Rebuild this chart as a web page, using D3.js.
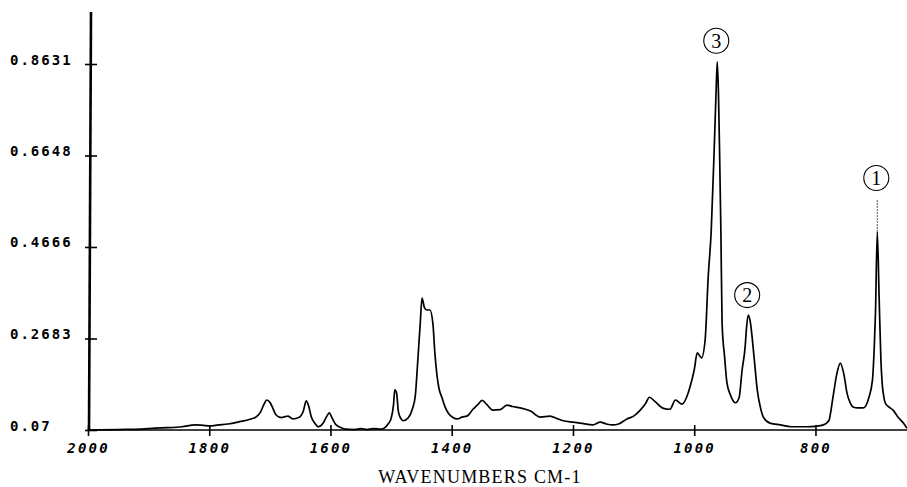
<!DOCTYPE html>
<html>
<head>
    <meta charset="utf-8">
    <title>IR spectrum</title>
    <script type="text/javascript" src="https://cdn.jsdelivr.net/npm/d3@7"></script>
    <style>
      body { margin: 0; background: #fff; }
    </style>
</head>
<body>
<script type="text/javascript">

        var width = 907
        var height = 487

        // spectrum (wavenumber cm-1, absorbance)
        var wavenumbers = [2000,1950,1912,1890,1868,1845,1823,1810,1799,1785,1769,1750,1731,1722,1715,1710,1705,1700,1695,1691,
            1685,1681,1675,1670,1666,1662,1655,1650,1645,1640,1636,1632,1626,1620,1612,1606,1602,1597,1592,1584,
            1576,1560,1550,1540,1530,1516,1505,1500,1496,1494,1491,1488,1484,1480,1472,1465,1460,1457,1452,1449,
            1445,1441,1436,1431,1428,1424,1421,1416,1411,1405,1398,1391,1383,1375,1365,1357,1350,1342,1332,1320,
            1309,1300,1287,1270,1254,1238,1225,1216,1200,1188,1167,1155,1145,1134,1125,1111,1100,1089,1080,1074,
            1065,1051,1040,1031,1020,1010,1007,1000,995,991,988,982,977,972,967,964,962,960,958,956,954,
            950,946,940,932,926,921,916,914,911,907,904,900,896,891,886,875,858,840,814,800,
            787,778,771,765,759,753,748,743,738,730,721,712,706,703,701,698,695,692,690,687,
            685,679,672,665,655,649]
        var absorbance = [0.070,0.071,0.072,0.074,0.075,0.077,0.081,0.080,0.079,0.081,0.083,0.088,0.094,0.099,0.110,0.125,0.135,0.130,0.117,0.105,
            0.098,0.097,0.099,0.100,0.097,0.094,0.096,0.099,0.110,0.133,0.122,0.100,0.085,0.077,0.085,0.100,0.107,0.095,0.083,0.076,
            0.072,0.071,0.073,0.071,0.073,0.072,0.083,0.095,0.125,0.157,0.150,0.110,0.095,0.090,0.096,0.115,0.145,0.200,0.300,0.356,
            0.335,0.330,0.330,0.300,0.240,0.185,0.160,0.140,0.120,0.105,0.097,0.094,0.098,0.100,0.115,0.125,0.134,0.125,0.113,0.114,
            0.124,0.121,0.118,0.111,0.098,0.100,0.094,0.090,0.087,0.085,0.081,0.087,0.083,0.081,0.083,0.094,0.100,0.113,0.128,0.141,
            0.132,0.117,0.115,0.135,0.126,0.150,0.163,0.200,0.237,0.231,0.226,0.265,0.400,0.500,0.680,0.800,0.868,0.800,0.660,0.500,0.300,
            0.230,0.172,0.145,0.129,0.140,0.200,0.250,0.287,0.319,0.300,0.265,0.210,0.157,0.120,0.098,0.085,0.081,0.077,0.077,0.078,
            0.081,0.090,0.142,0.190,0.215,0.190,0.150,0.130,0.120,0.118,0.118,0.140,0.178,0.250,0.324,0.499,0.358,0.220,0.172,0.140,
            0.129,0.120,0.113,0.100,0.085,0.074]

        var yTicks = [0.07, 0.2683, 0.4666, 0.6648, 0.8631]
        var yTickLabels = ["0.07", "0.2683", "0.4666", "0.6648", "0.8631"]
        var xTicks = [2000, 1800, 1600, 1400, 1200, 1000, 800]

        var peakNumbers = ["3", "2", "1"]
        var peakWavenumbers = [962, 911, 698]
        var peakHeights = [0.868, 0.319, 0.499]

        var spectrum = wavenumbers.map(function(w, i) { return [w, absorbance[i]] })

        var svg = d3.select("body").append("svg").attr("width", width).attr("height", height)

        var x = d3.scaleLinear().domain([2000, 649]).range([88, 907])
        var y = d3.scaleLinear().domain([0.07, 0.8631]).range([430, 64])

        // x axis
        var xAxis = svg.append("g")
            .attr("transform", "translate(0,430)")
            .call(d3.axisBottom(x).tickValues(xTicks).tickSize(0).tickFormat(d3.format("d")))
        xAxis.select(".domain").remove()
        xAxis.selectAll(".tick line").attr("y1", -5).attr("y2", 6).attr("stroke", "#000").attr("stroke-width", 1.6)
        xAxis.selectAll(".tick text")
            .attr("y", 23)
            .attr("dy", 0)
            .attr("fill", "#000")
            .style("font-family", "'DejaVu Sans Mono', monospace")
            .style("font-weight", "bold")
            .style("font-style", "italic")
            .style("font-size", "14px")
            .style("letter-spacing", "2.2px")
        svg.append("line")
            .attr("x1", 88).attr("x2", 907).attr("y1", 430).attr("y2", 430)
            .attr("stroke", "#000").attr("stroke-width", 1.7)

        // y axis
        var yAxis = svg.append("g")
            .attr("transform", "translate(89,0)")
            .call(d3.axisLeft(y).tickValues(yTicks).tickSize(0).tickFormat(function(d, i) { return yTickLabels[i] }))
        yAxis.select(".domain").remove()
        yAxis.selectAll(".tick line").attr("x1", -4).attr("x2", 8).attr("stroke", "#000").attr("stroke-width", 1.6)
        yAxis.selectAll(".tick text")
            .attr("x", -79)
            .attr("dy", "0")
            .attr("text-anchor", "start")
            .attr("fill", "#000")
            .style("font-family", "'DejaVu Sans Mono', monospace")
            .style("font-weight", "bold")
            .style("font-size", "14px")
            .style("letter-spacing", "2px")
        svg.append("line")
            .attr("x1", 91).attr("x2", 89).attr("y1", 12).attr("y2", 431)
            .attr("stroke", "#000").attr("stroke-width", 2.6)

        svg.append("text")
            .attr("x", 480).attr("y", 483)
            .attr("text-anchor", "middle")
            .style("font-family", "'Liberation Serif', serif")
            .style("font-size", "18px")
            .style("letter-spacing", "1.2px")
            .text("WAVENUMBERS CM-1")

        // spectrum trace
        var line = d3.line()
            .x(function(d) { return x(d[0]) })
            .y(function(d) { return y(d[1]) })
            .curve(d3.curveMonotoneX)

        svg.append("path")
            .attr("d", line(spectrum))
            .attr("fill", "none")
            .attr("stroke", "#000")
            .attr("stroke-width", 1.7)
            .attr("stroke-linejoin", "round")

        // circled peak numbers
        var labelOffsets = [-21, -20, -54]
        peakNumbers.forEach(function(n, i) {
            var cx = x(peakWavenumbers[i]) - 1
            var cy = y(peakHeights[i]) + labelOffsets[i]
            if (n === "1") {
                svg.append("line")
                    .attr("x1", cx + 1).attr("x2", cx + 1)
                    .attr("y1", cy + 22).attr("y2", y(peakHeights[i]))
                    .attr("stroke", "#555").attr("stroke-width", 1)
                    .attr("stroke-dasharray", "2,1")
            }
            svg.append("circle")
                .attr("cx", cx).attr("cy", cy).attr("r", 12.5)
                .attr("fill", "#fff").attr("stroke", "#000").attr("stroke-width", 1.1)
            svg.append("text")
                .attr("x", cx).attr("y", cy + 7)
                .attr("text-anchor", "middle")
                .style("font-family", "'Liberation Serif', serif")
                .style("font-size", "20px")
                .text(n)
        })
</script>
</body>
</html>
